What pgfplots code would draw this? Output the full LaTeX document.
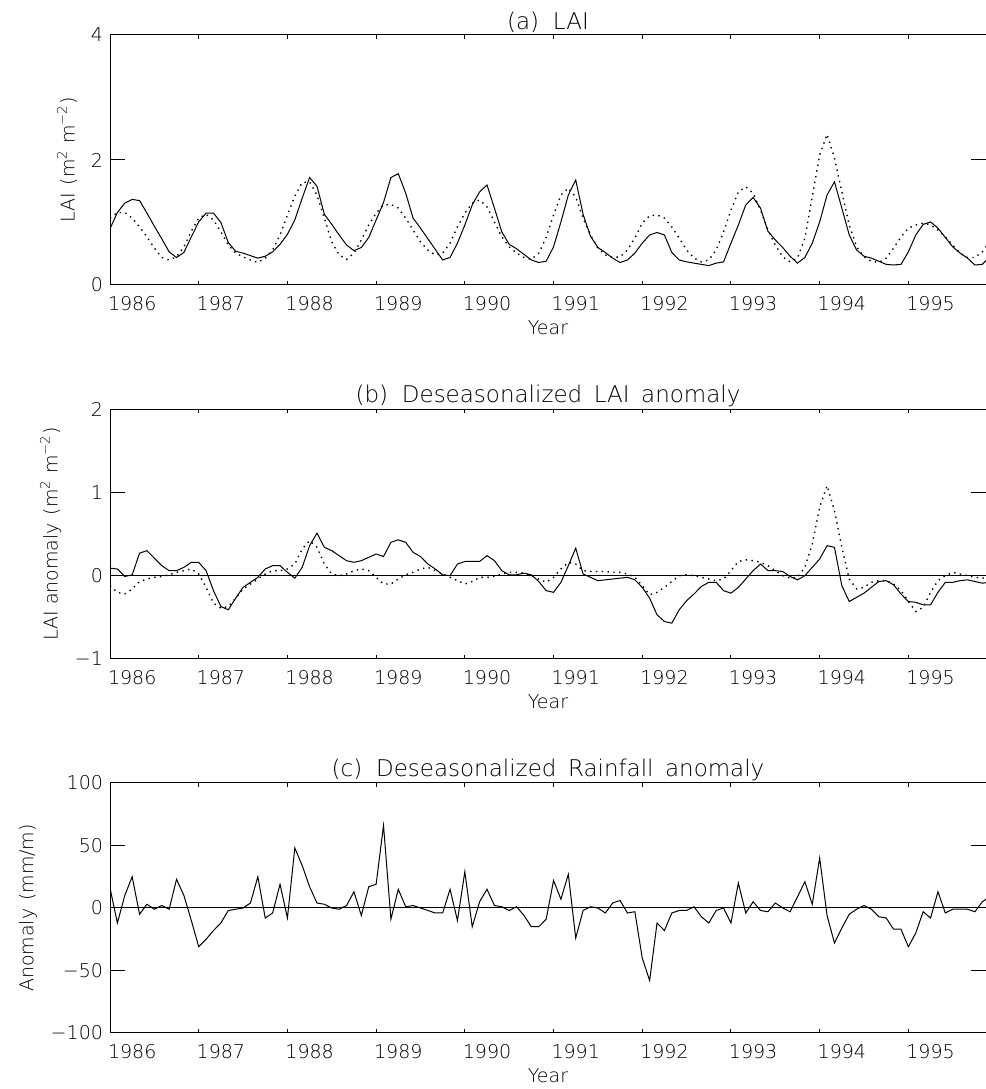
\documentclass[border=0pt]{standalone}
\usepackage{fontspec}
\setmainfont{DejaVu Sans ExtraLight}
\usepackage{pgfplots}
\pgfplotsset{compat=1.18}
\usepackage{pgfplotstable}

% panel (a): LAI, solid and dotted series, monthly from late 1985
\pgfplotstableread{
m solid dotted
0 0.90 1.07
1 1.16 1.16
2 1.31 1.16
3 1.37 1.07
4 1.35 0.93
5 1.15 0.77
6 0.94 0.59
7 0.74 0.44
8 0.53 0.40
9 0.44 0.45
10 0.52 0.61
11 0.77 0.86
12 1.01 1.07
13 1.15 1.13
14 1.15 1.04
15 1.00 0.85
16 0.68 0.64
17 0.54 0.51
18 0.51 0.45
19 0.47 0.40
20 0.43 0.36
21 0.46 0.43
22 0.53 0.56
23 0.65 0.80
24 0.81 1.12
25 1.04 1.42
26 1.39 1.64
27 1.72 1.65
28 1.58 1.44
29 1.13 1.07
30 0.97 0.69
31 0.80 0.48
32 0.64 0.41
33 0.55 0.51
34 0.60 0.72
35 0.76 0.96
36 1.04 1.15
37 1.32 1.28
38 1.72 1.29
39 1.78 1.23
40 1.47 1.07
41 1.07 0.88
42 0.91 0.69
43 0.74 0.56
44 0.57 0.48
45 0.40 0.51
46 0.44 0.67
47 0.67 0.93
48 0.96 1.15
49 1.28 1.31
50 1.49 1.36
51 1.60 1.25
52 1.23 1.01
53 0.85 0.77
54 0.65 0.61
55 0.58 0.51
56 0.49 0.44
57 0.40 0.41
58 0.36 0.51
59 0.38 0.76
60 0.61 1.12
61 1.01 1.44
62 1.44 1.55
63 1.68 1.41
64 1.13 1.07
65 0.78 0.80
66 0.60 0.59
67 0.52 0.48
68 0.43 0.44
69 0.36 0.45
70 0.40 0.56
71 0.51 0.75
72 0.67 0.99
73 0.80 1.11
74 0.84 1.12
75 0.80 1.07
76 0.52 0.93
77 0.40 0.75
78 0.37 0.56
79 0.35 0.43
80 0.33 0.37
81 0.31 0.40
82 0.35 0.56
83 0.37 0.85
84 0.67 1.20
85 0.96 1.49
86 1.28 1.57
87 1.40 1.47
88 1.23 1.20
89 0.86 0.88
90 0.72 0.64
91 0.60 0.45
92 0.46 0.37
93 0.35 0.43
94 0.44 0.75
95 0.67 1.41
96 1.01 2.08
97 1.44 2.41
98 1.65 2.03
99 1.23 1.49
100 0.80 0.96
101 0.56 0.61
102 0.46 0.45
103 0.43 0.38
104 0.38 0.36
105 0.33 0.43
106 0.32 0.59
107 0.33 0.77
108 0.53 0.91
109 0.80 0.96
110 0.97 0.99
111 1.01 0.96
112 0.91 0.88
113 0.76 0.77
114 0.61 0.64
115 0.51 0.51
116 0.43 0.44
117 0.32 0.44
118 0.33 0.53
119 0.45 0.69
}\laitable

% panel (b): deseasonalized LAI anomaly
\pgfplotstableread{
m solid dotted
0 0.09 -0.12
1 0.08 -0.20
2 -0.01 -0.22
3 0.01 -0.16
4 0.27 -0.07
5 0.30 -0.04
6 0.21 -0.02
7 0.12 -0.01
8 0.06 0.01
9 0.06 0.04
10 0.10 0.06
11 0.16 0.08
12 0.16 0.02
13 0.06 -0.14
14 -0.18 -0.33
15 -0.37 -0.39
16 -0.41 -0.37
17 -0.27 -0.27
18 -0.14 -0.16
19 -0.08 -0.10
20 -0.02 -0.04
21 0.08 0.02
22 0.12 0.06
23 0.12 0.06
24 0.04 0.08
25 -0.03 0.14
26 0.10 0.32
27 0.36 0.42
28 0.51 0.34
29 0.34 0.14
30 0.30 0.02
31 0.24 0.00
32 0.18 0.02
33 0.16 0.06
34 0.18 0.08
35 0.22 0.06
36 0.26 -0.02
37 0.23 -0.10
38 0.40 -0.10
39 0.43 -0.04
40 0.40 0.01
41 0.28 0.04
42 0.23 0.08
43 0.14 0.10
44 0.08 0.06
45 0.01 0.02
46 0.00 -0.02
47 0.14 -0.06
48 0.17 -0.10
49 0.17 -0.07
50 0.17 -0.02
51 0.24 -0.02
52 0.18 -0.01
53 0.06 0.02
54 0.01 0.04
55 0.01 0.04
56 0.03 0.03
57 0.01 0.00
58 -0.07 -0.04
59 -0.18 -0.08
60 -0.20 -0.02
61 -0.08 0.08
62 0.12 0.16
63 0.33 0.14
64 0.02 0.06
65 -0.02 0.05
66 -0.06 0.05
67 -0.05 0.05
68 -0.04 0.04
69 -0.03 0.04
70 -0.02 0.02
71 -0.05 -0.02
72 -0.14 -0.12
73 -0.27 -0.23
74 -0.47 -0.20
75 -0.55 -0.14
76 -0.57 -0.07
77 -0.41 0.00
78 -0.30 0.01
79 -0.22 0.00
80 -0.13 -0.02
81 -0.08 -0.04
82 -0.08 -0.06
83 -0.18 -0.04
84 -0.21 0.06
85 -0.14 0.17
86 -0.04 0.19
87 0.06 0.18
88 0.14 0.16
89 0.06 0.12
90 0.06 0.06
91 0.05 0.00
92 -0.01 -0.03
93 -0.05 -0.02
94 0.00 0.10
95 0.10 0.38
96 0.20 0.82
97 0.36 1.08
98 0.34 0.78
99 -0.12 0.34
100 -0.31 -0.04
101 -0.26 -0.16
102 -0.21 -0.14
103 -0.14 -0.08
104 -0.07 -0.06
105 -0.06 -0.06
106 -0.11 -0.10
107 -0.22 -0.18
108 -0.31 -0.31
109 -0.32 -0.43
110 -0.35 -0.38
111 -0.35 -0.20
112 -0.20 -0.06
113 -0.08 0.00
114 -0.08 0.04
115 -0.06 0.02
116 -0.05 0.00
117 -0.07 -0.02
118 -0.09 -0.03
119 -0.08 -0.02
}\anomtable

% panel (c): deseasonalized rainfall anomaly (mm/m)
\pgfplotstableread{
m rain
0 16
1 -12
2 10
3 25
4 -5
5 3
6 -1
7 2
8 -1
9 23
10 10
11 -10
12 -31
13 -25
14 -18
15 -12
16 -2
17 -1
18 0
19 4
20 25
21 -8
22 -4
23 19
24 -8
25 48
26 34
27 17
28 4
29 3
30 0
31 -1
32 2
33 13
34 -6
35 17
36 19
37 66
38 -9
39 15
40 1
41 2
42 0
43 -2
44 -4
45 -4
46 15
47 -10
48 29
49 -15
50 5
51 15
52 2
53 1
54 -2
55 1
56 -6
57 -15
58 -15
59 -9
60 22
61 7
62 27
63 -24
64 -2
65 1
66 0
67 -4
68 4
69 6
70 -4
71 -3
72 -40
73 -58
74 -12
75 -18
76 -4
77 -2
78 -2
79 1
80 -7
81 -12
82 -2
83 0
84 -12
85 20
86 -4
87 5
88 -2
89 -3
90 4
91 0
92 -3
93 9
94 21
95 3
96 40
97 -6
98 -28
99 -16
100 -5
101 -1
102 2
103 -1
104 -7
105 -8
106 -17
107 -17
108 -31
109 -20
110 -3
111 -8
112 13
113 -4
114 -1
115 -1
116 -1
117 -3
118 5
119 9
}\raintable

\pgfplotsset{
  panel/.style={
    scale only axis, width=438pt, height=125pt,
    xmin=0, xmax=118.5,
    axis line style={line width=0.5pt},
    tick align=inside, xtick pos=both, ytick pos=both,
    major tick length=7.5pt,
    tick style={line width=0.5pt, black},
    xtick style={/pgfplots/major tick length=2pt},
    xtick={0,12,...,108},
    xticklabels={1986,1987,1988,1989,1990,1991,1992,1993,1994,1995},
    xticklabel style={xshift=11.1pt, yshift=-2pt},
    ticklabel style={font=\fontsize{9.5}{11}\selectfont},
    label style={font=\fontsize{9.5}{11}\selectfont},
    title style={font=\fontsize{11.5}{13}\selectfont, yshift=-8.5pt},
    xlabel={Year},
    xlabel style={yshift=2pt},
  },
  sol/.style={black, line width=0.5pt},
  dot/.style={black, line width=0.7pt, dash pattern=on 0.7pt off 2.2pt},
}

\begin{document}
\begin{tikzpicture}
\path[use as bounding box] (0,0) rectangle (493pt,544.5pt);

\begin{axis}[panel, at={(55pt,402pt)},
  ymin=0, ymax=4, ytick={0,2,4}, yticklabels={0,2,4},
  title={(a)\hspace{0.6em}LAI},
  ylabel={LAI\hspace{0.4em}(m\textsuperscript{2} m\textsuperscript{−2})}]
\addplot[sol] table[x=m, y=solid] {\laitable};
\addplot[dot] table[x=m, y=dotted] {\laitable};
\end{axis}

\begin{axis}[panel, at={(55pt,215pt)},
  ymin=-1, ymax=2, ytick={-1,0,1,2}, yticklabels={−1,0,1,2},
  title={(b)\hspace{0.6em}Deseasonalized\hspace{0.5em}LAI\hspace{0.5em}anomaly},
  ylabel={LAI anomaly\hspace{0.4em}(m\textsuperscript{2} m\textsuperscript{−2})}]
\addplot[sol] coordinates {(0,0) (118.5,0)};
\addplot[sol] table[x=m, y=solid] {\anomtable};
\addplot[dot] table[x=m, y=dotted] {\anomtable};
\end{axis}

\begin{axis}[panel, at={(55pt,28pt)},
  ymin=-100, ymax=100, ytick={-100,-50,0,50,100},
  yticklabels={−100,−50,0,50,100},
  title={(c)\hspace{0.6em}Deseasonalized\hspace{0.5em}Rainfall\hspace{0.5em}anomaly},
  ylabel={Anomaly\hspace{0.4em}(mm/m)}]
\addplot[sol] coordinates {(0,0) (118.5,0)};
\addplot[sol] table[x=m, y=rain] {\raintable};
\end{axis}
\end{tikzpicture}
\end{document}
